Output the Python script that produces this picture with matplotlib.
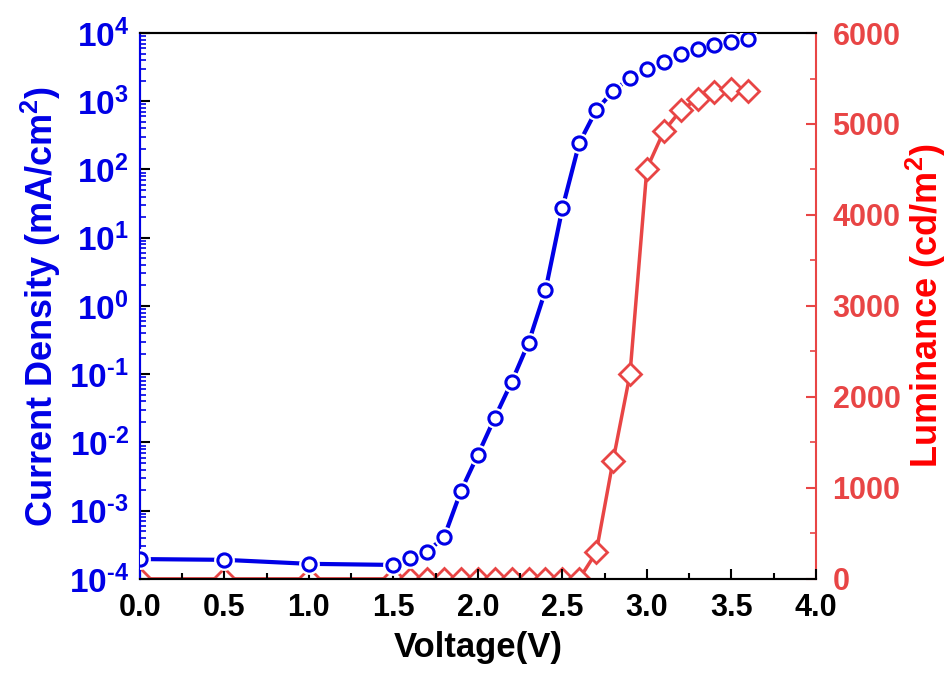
import numpy as np
import matplotlib
matplotlib.use("Agg")
import matplotlib.pyplot as plt
from matplotlib.ticker import FixedLocator, LogLocator, MultipleLocator, FuncFormatter, NullFormatter

plt.rcParams['font.family'] = ['Liberation Sans', 'DejaVu Sans']
plt.rcParams['font.weight'] = 'bold'
plt.rcParams['mathtext.fontset'] = 'custom'
plt.rcParams['mathtext.rm'] = 'Liberation Sans:bold'
plt.rcParams['mathtext.bf'] = 'Liberation Sans:bold'
plt.rcParams['mathtext.it'] = 'Liberation Sans:bold'

# data
voltage = [0.0, 0.5, 1.0, 1.5, 1.6, 1.7, 1.8, 1.9, 2.0, 2.1, 2.2, 2.3, 2.4,
           2.5, 2.6, 2.7, 2.8, 2.9, 3.0, 3.1, 3.2, 3.3, 3.4, 3.5, 3.6]
current = [1.95e-4, 1.9e-4, 1.66e-4, 1.6e-4, 2.0e-4, 2.5e-4, 4.1e-4, 1.95e-3,
           6.6e-3, 2.3e-2, 7.7e-2, 0.29, 1.7, 27, 245, 740, 1400, 2200, 2970,
           3760, 4900, 5800, 6670, 7370, 8200]
luminance = [0, 0, 0, 0, 0, 0, 0, 0, 0, 0, 0, 0, 0, 0, 0, 290, 1300, 2250,
             4510, 4920, 5150, 5275, 5350, 5385, 5360]

blue = '#0000e6'
red = '#e84545'

fig = plt.figure(figsize=(9.52, 6.81), dpi=100)
ax = fig.add_axes([0.147, 0.150, 0.71, 0.8015])
ax2 = ax.twinx()

# current density (log)
ax.plot(voltage, current, color=blue, lw=3, zorder=2)
ax.plot(voltage, current, ls='none', marker='o', ms=12, mfc='white', mec='white', mew=3, zorder=3)
ax.plot(voltage, current, ls='none', marker='o', ms=9.5, mfc='white', mec=blue, mew=2.2, zorder=4)
ax.set_yscale('log')
ax.set_ylim(1e-4, 1e4)
ax.set_xlim(0, 4.0)

# luminance
ax2.plot(voltage, luminance, color=red, lw=2.5, marker='D', ms=11, mfc='white',
         mec=red, mew=2)
ax2.set_ylim(0, 6000)

ax.set_zorder(ax2.get_zorder() + 1)
ax.patch.set_visible(False)


def exp_label(v, p):
    e = int(round(np.log10(v)))
    s = str(e).replace('-', r'\text{-}')
    return r'$\mathbf{10^{%s}}$' % s


# x axis
ax.xaxis.set_major_locator(MultipleLocator(0.5))
ax.xaxis.set_minor_locator(MultipleLocator(0.25))
ax.xaxis.set_major_formatter(FuncFormatter(lambda v, p: f'{v:.1f}'))
ax.tick_params(axis='x', which='major', direction='in', length=7, width=1.5,
               labelsize=22, pad=10, colors='black')
ax.tick_params(axis='x', which='minor', direction='in', length=4, width=1.5)
ax.set_xlabel('Voltage(V)', fontsize=25, fontweight='bold', labelpad=6)

# left axis
decades = [-4, -3, -2, -1, 0, 1, 2, 3, 4]
ax.yaxis.set_major_locator(FixedLocator([10.0 ** d for d in decades]))
ax.yaxis.set_minor_locator(LogLocator(base=10, subs=np.arange(2, 10), numticks=20))
ax.yaxis.set_minor_formatter(NullFormatter())
ax.yaxis.set_major_formatter(FuncFormatter(exp_label))
ax.tick_params(axis='y', which='major', direction='in', length=7, width=1.5,
               color='black', labelcolor=blue, labelsize=24, pad=8)
ax.tick_params(axis='y', which='minor', direction='in', length=4, width=1.2,
               color=blue)
ax.set_ylabel('Current Density (mA/cm$^2$)', color=blue, fontsize=26,
              fontweight='bold', labelpad=4)

# right axis
ax2.yaxis.set_major_locator(MultipleLocator(1000))
ax2.yaxis.set_minor_locator(MultipleLocator(500))
ax2.tick_params(axis='y', which='major', direction='in', length=7, width=1.5,
                color=red, labelcolor=red, labelsize=22, pad=12)
ax2.tick_params(axis='y', which='minor', direction='in', length=4, width=1.2,
                color=red)
ax2.set_ylabel('Luminance (cd/m$^2$)', color='red', fontsize=26,
               fontweight='bold', labelpad=2)

for a in (ax, ax2):
    a.spines['top'].set_color('black')
    a.spines['bottom'].set_color('black')
    a.spines['left'].set_color(blue)
    a.spines['right'].set_color(red)
    for s in a.spines.values():
        s.set_linewidth(1.5)
ax.spines['right'].set_visible(False)

fig.savefig('out.png', dpi=100)
